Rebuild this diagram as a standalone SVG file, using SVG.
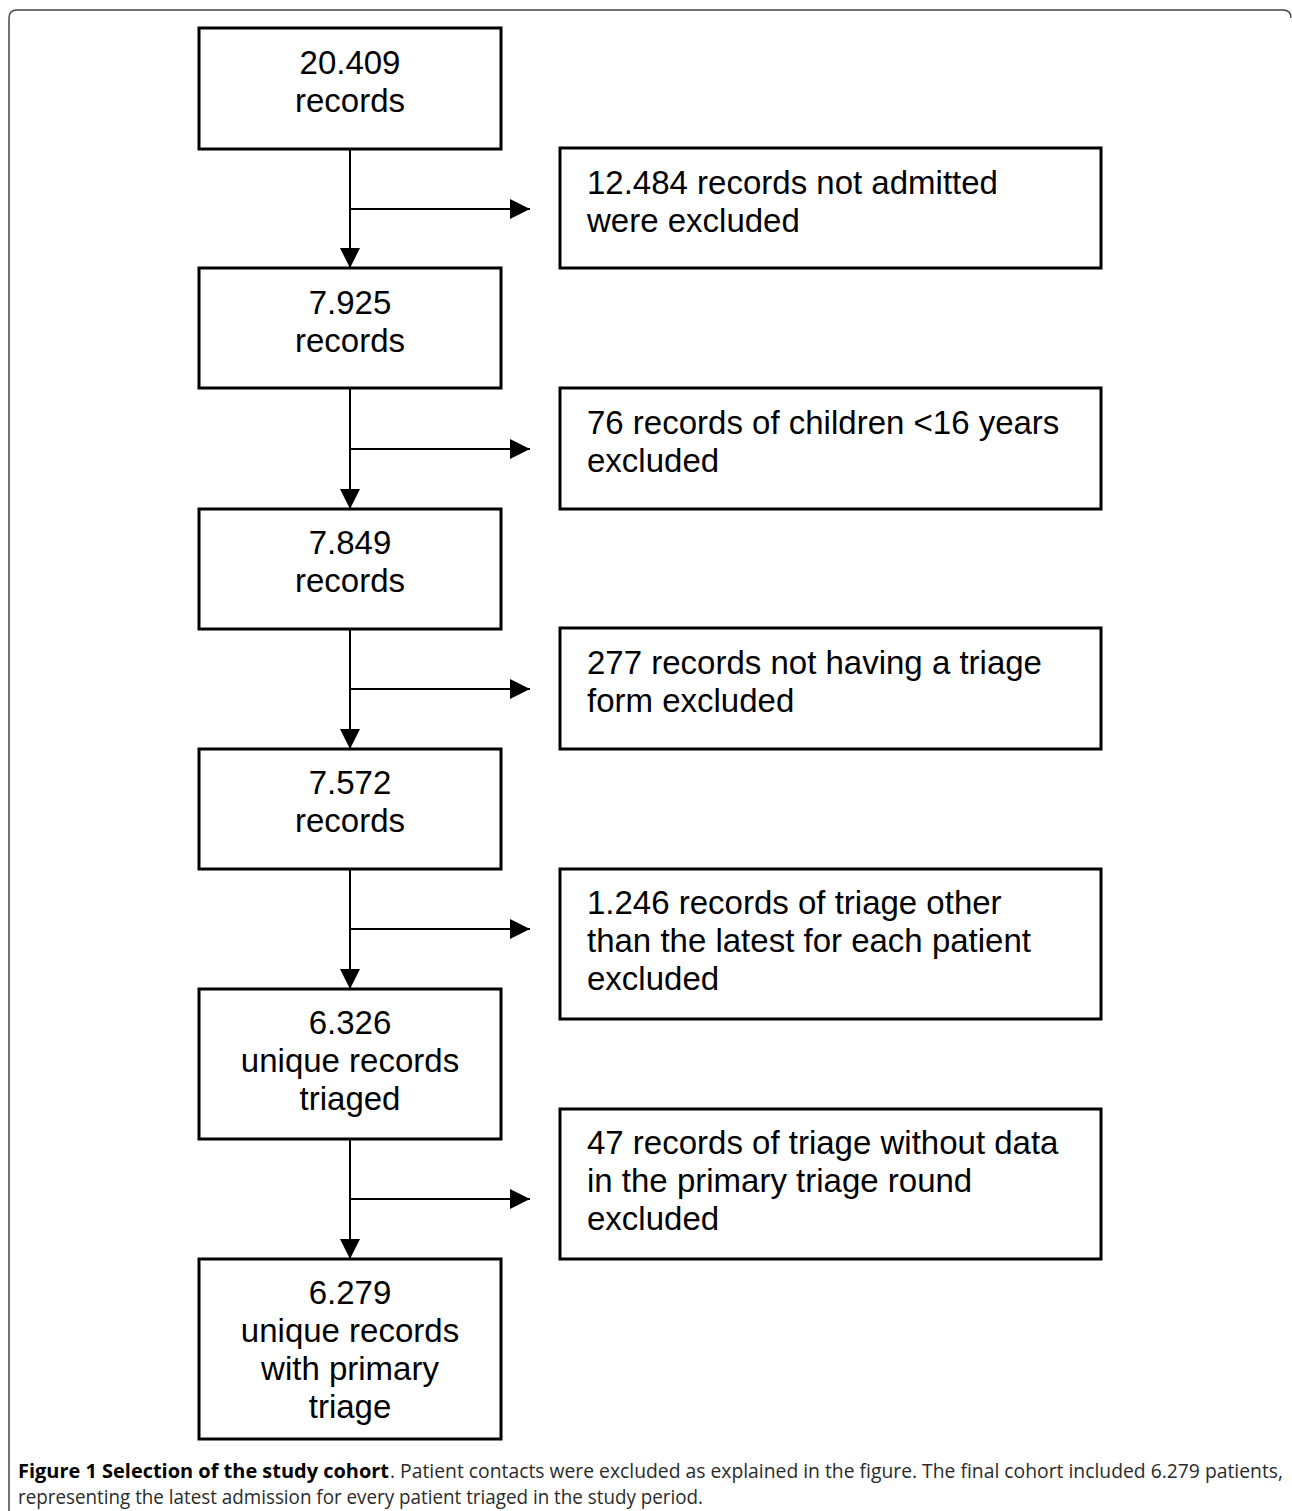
<svg xmlns="http://www.w3.org/2000/svg" width="1292" height="1511" viewBox="0 0 1292 1511">
<defs>
<style>
.box{fill:#fff;stroke:#000;stroke-width:3}
.t{font-family:"Liberation Sans",Arial,Helvetica,sans-serif;font-size:33px;fill:#000}
.c{text-anchor:middle}
.conn line{stroke:#000;stroke-width:2}
.cap{font-family:"Open Sans","Noto Sans",sans-serif;font-size:19.5px;fill:#2a2a2a}
.capb{font-weight:bold;fill:#000}
</style>
<marker id="ah" viewBox="0 0 20 20" refX="20" refY="10" markerWidth="20" markerHeight="20" markerUnits="userSpaceOnUse" orient="auto">
<path d="M0,0 L20,10 L0,20 Z" fill="#000"/>
</marker>
</defs>
<rect width="1292" height="1511" fill="#fff"/>
<path d="M9,1511 L9,18 Q9,10 17,10 L1283,10 Q1291,10 1291,18" fill="none" stroke="#444" stroke-width="1.5"/>

<g id="connectors" class="conn">
<line x1="350" y1="149" x2="350" y2="268" marker-end="url(#ah)"/>
<line x1="350" y1="209" x2="530" y2="209" marker-end="url(#ah)"/>
<line x1="350" y1="388" x2="350" y2="509" marker-end="url(#ah)"/>
<line x1="350" y1="449" x2="530" y2="449" marker-end="url(#ah)"/>
<line x1="350" y1="629" x2="350" y2="749" marker-end="url(#ah)"/>
<line x1="350" y1="689" x2="530" y2="689" marker-end="url(#ah)"/>
<line x1="350" y1="869" x2="350" y2="989" marker-end="url(#ah)"/>
<line x1="350" y1="929" x2="530" y2="929" marker-end="url(#ah)"/>
<line x1="350" y1="1139" x2="350" y2="1259" marker-end="url(#ah)"/>
<line x1="350" y1="1199" x2="530" y2="1199" marker-end="url(#ah)"/>
</g>

<g id="n1"><rect class="box" x="199" y="28" width="302" height="121"/>
<text class="t c" x="350" y="74">20.409</text><text class="t c" x="350" y="112">records</text></g>
<g id="n2"><rect class="box" x="199" y="268" width="302" height="120"/>
<text class="t c" x="350" y="314">7.925</text><text class="t c" x="350" y="352">records</text></g>
<g id="n3"><rect class="box" x="199" y="509" width="302" height="120"/>
<text class="t c" x="350" y="554">7.849</text><text class="t c" x="350" y="592">records</text></g>
<g id="n4"><rect class="box" x="199" y="749" width="302" height="120"/>
<text class="t c" x="350" y="794">7.572</text><text class="t c" x="350" y="832">records</text></g>
<g id="n5"><rect class="box" x="199" y="989" width="302" height="150"/>
<text class="t c" x="350" y="1034">6.326</text><text class="t c" x="350" y="1072">unique records</text><text class="t c" x="350" y="1110">triaged</text></g>
<g id="n6"><rect class="box" x="199" y="1259" width="302" height="180"/>
<text class="t c" x="350" y="1304">6.279</text><text class="t c" x="350" y="1342">unique records</text><text class="t c" x="350" y="1380">with primary</text><text class="t c" x="350" y="1418">triage</text></g>

<g id="e1"><rect class="box" x="560" y="148" width="541" height="120"/>
<text class="t" x="587" y="194">12.484 records not admitted</text><text class="t" x="587" y="232">were excluded</text></g>
<g id="e2"><rect class="box" x="560" y="388" width="541" height="121"/>
<text class="t" x="587" y="434">76 records of children &lt;16 years</text><text class="t" x="587" y="472">excluded</text></g>
<g id="e3"><rect class="box" x="560" y="628" width="541" height="121"/>
<text class="t" x="587" y="674">277 records not having a triage</text><text class="t" x="587" y="712">form excluded</text></g>
<g id="e4"><rect class="box" x="560" y="869" width="541" height="150"/>
<text class="t" x="587" y="914">1.246 records of triage other</text><text class="t" x="587" y="952">than the latest for each patient</text><text class="t" x="587" y="990">excluded</text></g>
<g id="e5"><rect class="box" x="560" y="1109" width="541" height="150"/>
<text class="t" x="587" y="1154">47 records of triage without data</text><text class="t" x="587" y="1192">in the primary triage round</text><text class="t" x="587" y="1230">excluded</text></g>

<g id="caption">
<text class="cap capb" x="18" y="1478" textLength="371" lengthAdjust="spacingAndGlyphs">Figure 1 Selection of the study cohort</text>
<text class="cap" x="390" y="1478" textLength="893" lengthAdjust="spacingAndGlyphs">. Patient contacts were excluded as explained in the figure. The final cohort included 6.279 patients,</text>
<text class="cap" x="18" y="1504" textLength="685" lengthAdjust="spacingAndGlyphs">representing the latest admission for every patient triaged in the study period.</text>
</g>
</svg>
